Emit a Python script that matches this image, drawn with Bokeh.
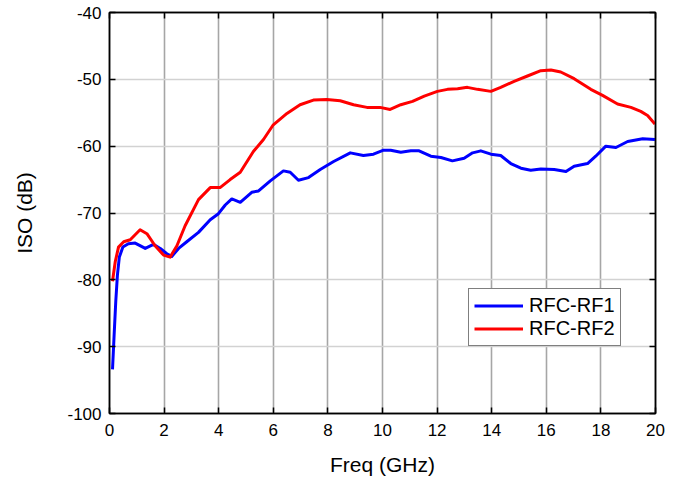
from bokeh.plotting import figure
from bokeh.models import LinearAxis, Range1d, FixedTicker, Legend, LegendItem
from bokeh.embed import file_html
from bokeh.resources import INLINE

# RFC-RF1 (blue)
f1 = [0.11, 0.17, 0.23, 0.29, 0.36, 0.49, 0.69, 0.94, 1.31, 1.61, 1.86, 2.10, 2.28,
      2.53, 2.83, 3.26, 3.69, 3.99, 4.24, 4.48, 4.79, 5.21, 5.46, 5.89, 6.37, 6.62,
      6.92, 7.29, 7.72, 8.21, 8.82, 9.30, 9.67, 10.04, 10.30, 10.67, 11.04, 11.34,
      11.77, 12.14, 12.56, 12.99, 13.30, 13.60, 13.97, 14.33, 14.70, 15.07, 15.43,
      15.80, 16.29, 16.72, 17.02, 17.51, 17.81, 18.18, 18.55, 18.98, 19.53, 19.98]
iso1 = [-93.4, -88.2, -83.2, -79.3, -76.6, -75.1, -74.6, -74.5, -75.3, -74.7, -75.3,
        -76.1, -76.5, -75.3, -74.3, -72.9, -71.0, -70.1, -68.8, -67.9, -68.4, -66.9,
        -66.7, -65.2, -63.7, -63.9, -65.1, -64.7, -63.5, -62.3, -61.0, -61.4, -61.2,
        -60.6, -60.6, -60.9, -60.7, -60.7, -61.5, -61.7, -62.2, -61.8, -61.0, -60.7,
        -61.2, -61.4, -62.6, -63.3, -63.6, -63.4, -63.5, -63.8, -63.0, -62.6, -61.5,
        -60.0, -60.2, -59.3, -58.9, -59.0]

# RFC-RF2 (red)
f2 = [0.11, 0.21, 0.33, 0.52, 0.76, 1.12, 1.37, 1.67, 1.98, 2.22, 2.47, 2.77, 3.26,
      3.69, 4.05, 4.42, 4.79, 5.27, 5.64, 6.00, 6.50, 6.98, 7.47, 7.96, 8.45, 8.94,
      9.43, 9.91, 10.28, 10.67, 11.10, 11.53, 12.01, 12.38, 12.75, 13.11, 13.48,
      13.97, 14.33, 14.82, 15.31, 15.80, 16.17, 16.53, 17.02, 17.63, 18.06, 18.61,
      19.10, 19.46, 19.71, 19.98]
iso2 = [-80.2, -77.3, -75.1, -74.3, -74.0, -72.5, -73.1, -74.9, -76.3, -76.6, -74.9,
        -71.9, -68.0, -66.2, -66.2, -65.0, -63.9, -60.8, -59.0, -56.8, -55.1, -53.8,
        -53.1, -53.0, -53.2, -53.8, -54.2, -54.2, -54.5, -53.8, -53.3, -52.5, -51.8,
        -51.5, -51.4, -51.2, -51.5, -51.8, -51.2, -50.3, -49.5, -48.7, -48.6, -48.9,
        -49.9, -51.5, -52.4, -53.7, -54.2, -54.8, -55.4, -56.7]

x_ticks = [0, 2, 4, 6, 8, 10, 12, 14, 16, 18, 20]
y_ticks = [-100, -90, -80, -70, -60, -50, -40]
y_tick_labels = ["-100", "-90", "-80", "-70", "-60", "-50", "-40"]
series_names = ["RFC-RF1", "RFC-RF2"]

FONT = "Liberation Sans"

p = figure(width=673, height=478, output_backend="svg", toolbar_location=None,
           x_range=Range1d(0, 20), y_range=Range1d(-100, -40),
           min_border_left=109, min_border_right=18, min_border_top=12,
           min_border_bottom=62, x_axis_location=None, y_axis_location=None)
p.background_fill_color = "white"
p.border_fill_color = "white"
p.outline_line_color = "black"
p.outline_line_width = 1.5

def style_axis(ax, ticks, show_labels):
    ax.ticker = FixedTicker(ticks=ticks)
    ax.major_tick_in = 6
    ax.major_tick_out = 0
    ax.minor_tick_line_color = None
    ax.axis_line_color = "black"
    ax.axis_line_width = 1.5
    ax.major_tick_line_color = "black"
    ax.major_tick_line_width = 1.5
    ax.major_label_text_font = FONT
    ax.major_label_text_font_size = "17px"
    ax.major_label_text_color = "black" if show_labels else None
    ax.axis_label_text_font = FONT
    ax.axis_label_text_font_size = "21px"
    ax.axis_label_text_font_style = "normal"
    ax.axis_label_text_color = "black"

xb = LinearAxis(axis_label="Freq (GHz)")
style_axis(xb, x_ticks, True)
xb.major_label_standoff = 10
xb.axis_label_standoff = 14
p.add_layout(xb, "below")

yl = LinearAxis(axis_label="ISO (dB)")
style_axis(yl, y_ticks, True)
yl.major_label_overrides = {float(t): s for t, s in zip(y_ticks, y_tick_labels)}
yl.major_label_standoff = 8
yl.axis_label_standoff = 28
p.add_layout(yl, "left")

xt = LinearAxis()
style_axis(xt, x_ticks, False)
xt.major_label_text_font_size = "0px"
xt.major_label_standoff = 0
p.add_layout(xt, "above")

yr = LinearAxis()
style_axis(yr, y_ticks, False)
yr.major_label_text_font_size = "0px"
yr.major_label_standoff = 0
p.add_layout(yr, "right")

p.xgrid.ticker = FixedTicker(ticks=x_ticks)
p.ygrid.ticker = FixedTicker(ticks=y_ticks)
p.xgrid.grid_line_color = "#a6a6a6"
p.xgrid.grid_line_width = 1.6
p.ygrid.grid_line_color = "#d2d2d2"
p.ygrid.grid_line_width = 1.4

r1 = p.line(f1, iso1, line_color="#0000ff", line_width=3, line_join="round")
r2 = p.line(f2, iso2, line_color="#ff0000", line_width=3, line_join="round")

legend = Legend(items=[LegendItem(label=series_names[0], renderers=[r1]),
                       LegendItem(label=series_names[1], renderers=[r2])],
                location=(359, 67))
legend.label_text_font = FONT
legend.label_text_font_size = "20px"
legend.label_text_color = "black"
legend.glyph_width = 49
legend.glyph_height = 21
legend.label_height = 21
legend.label_standoff = 6
legend.padding = 5
legend.spacing = 0
legend.margin = 0
legend.border_line_color = "black"
legend.border_line_width = 1
legend.background_fill_color = "white"
legend.background_fill_alpha = 1.0
p.add_layout(legend, "center")

open("out.html", "w").write(file_html(p, INLINE))
